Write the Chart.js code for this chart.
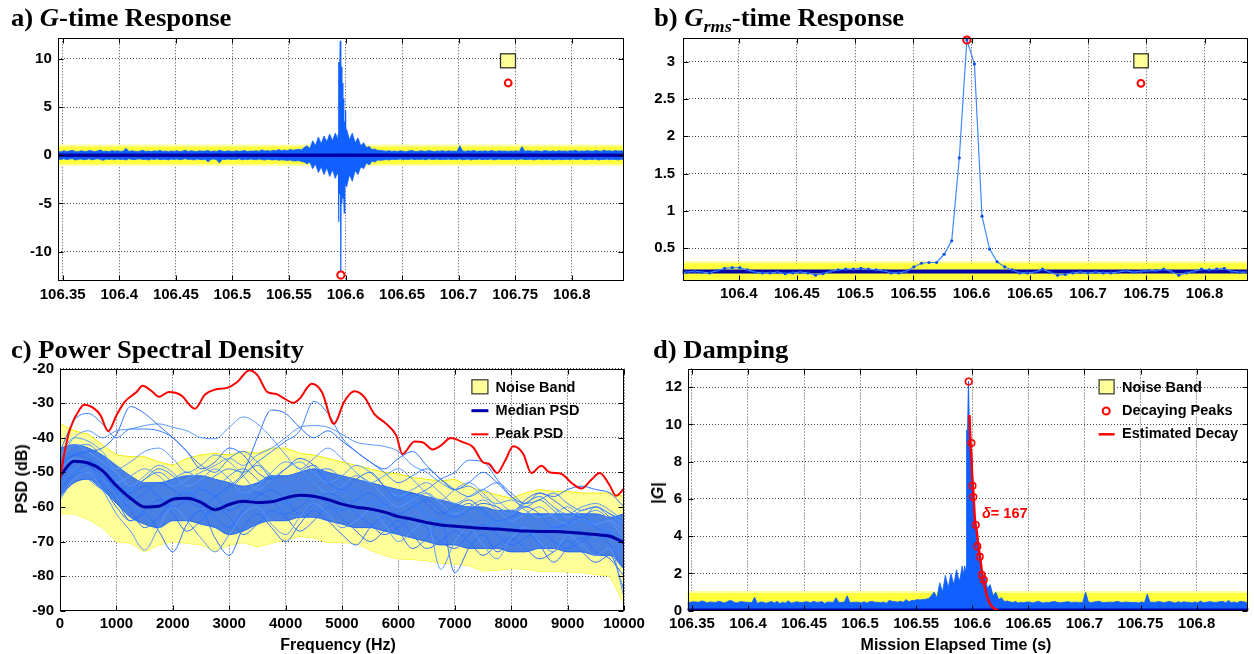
<!DOCTYPE html>
<html><head><meta charset="utf-8">
<script src="https://cdn.jsdelivr.net/npm/chart.js@4.4.1/dist/chart.umd.min.js"></script>
<style>
html,body{margin:0;padding:0;background:#fff;}
#page{position:relative;width:1254px;height:654px;overflow:hidden;background:#fff;}
canvas{position:absolute;}
.ttl{position:absolute;font-family:"Liberation Serif","Times New Roman",serif;font-weight:bold;font-size:25px;line-height:25px;white-space:nowrap;transform-origin:0 0;transform:scaleX(1.065);color:#000;}
.ttl .sub{font-size:17px;position:relative;top:6px;}
.ax{position:absolute;font-family:"Liberation Sans",Arial,sans-serif;font-weight:bold;font-size:16px;line-height:16px;white-space:nowrap;color:#000;}
.ann{position:absolute;font-family:"Liberation Sans",Arial,sans-serif;font-weight:bold;font-size:14.5px;line-height:16px;white-space:nowrap;color:#f00;}
</style></head>
<body><div id="page">
<canvas id="cA" width="630" height="290" style="left:0;top:30px"></canvas>
<canvas id="cB" width="624" height="290" style="left:630px;top:30px"></canvas>
<canvas id="cC" width="660" height="324" style="left:0;top:330px"></canvas>
<canvas id="cD" width="624" height="324" style="left:630px;top:330px"></canvas>
<div class="ttl" style="left:11px;top:5px">a) <i>G</i>-time Response</div>
<div class="ttl" style="left:654px;top:5px">b) <i>G<span class="sub">rms</span></i>-time Response</div>
<div class="ttl" style="left:11px;top:337px">c) Power Spectral Density</div>
<div class="ttl" style="left:653px;top:337px">d) Damping</div>
<div class="ax" style="left:338px;top:636.5px;transform:translateX(-50%)">Frequency (Hz)</div>
<div class="ax" style="left:956px;top:636.5px;transform:translateX(-50%)">Mission Elapsed Time (s)</div>
<div class="ax" style="left:21.5px;top:479px;transform:translate(-50%,-50%) rotate(-90deg)">PSD (dB)</div>
<div class="ax" style="left:657.5px;top:493px;transform:translate(-50%,-50%) rotate(-90deg)">|<i>G</i>|</div>
<div class="ann" style="left:982px;top:504.5px"><i>δ</i>= 167</div>
</div>
<script>
// ================= DATA =================
// ---- a) G-time response (envelope of the signal, sampled every aStep s) ----
const aStart = 106.346, aStep = 0.0025;
const aUpper = [
.42,.35,.48,.38,.45,.52,.40,.36,.47,.41,.38,.50,.44,.37,.46,.55,.40,.43,.36,.49,
.41,.46,.38,.44,.72,.39,.47,.42,.36,.45,.50,.40,.43,.38,.46,.41,.53,.39,.44,.37,
.45,.40,.48,.36,.43,.51,.39,.46,.42,.38,.47,.41,.44,.49,.37,.45,.40,.52,.43,.38,
.46,.42,.39,.48,.41,.44,.50,.38,.45,.43,.47,.40,.56,.44,.49,.42,.51,.46,.60,.48,
.55,.48,.60,.52,.58,.62,.56,.80,1.0,.70,1.5,1.0,1.9,1.2,2.0,1.4,2.2,1.5,2.3,1.6,
2.6,1.7,2.7,1.6,2.3,1.3,1.8,1.0,1.3,.80,.90,.60,.65,.50,.50,.46,.42,.48,.40,.44,
.39,.47,.42,.36,.45,.50,.41,.38,.46,.43,.40,.49,.44,.37,.45,.42,.48,.39,.46,.41,
.43,.38,1.0,.45,.40,.47,.42,.51,.39,.44,.41,.46,.38,.49,.43,.40,.47,.42,.45,.39,
.44,.41,.48,.37,.90,.42,.46,.45,.40,.47,.43,.39,.50,.44,.41,.46,.38,.48,.42,.45,
.40,.47,.43,.52,.39,.45,.42,.48,.44,.41,.49,.46,.40,.55,.43,.47,.41,.50,.44,.46,
.42];
const aLower = [
-.38,-.45,-.36,-.47,-.40,-.35,-.50,-.42,-.39,-.46,-.44,-.37,-.48,-.41,-.36,-.45,-.52,-.39,-.43,-.40,
-.47,-.38,-.44,-.41,-.49,-.36,-.43,-.46,-.40,-.38,-.45,-.42,-.50,-.39,-.44,-.37,-.46,-.41,-.43,-.48,
-.40,-.44,-.38,-.47,-.42,-.36,-.45,-.41,-.49,-.39,-.43,-.46,-.40,-.70,-.44,-.38,-.47,-.80,-.42,-.45,
-.39,-.46,-.42,-.44,-.37,-.48,-.41,-.45,-.40,-.43,-.47,-.39,-.44,-.50,-.42,-.46,-.48,-.44,-.52,-.47,
-.50,-.55,-.48,-.58,-.60,-.55,-.65,-.70,-.90,-.70,-1.4,-.90,-1.8,-1.2,-2.0,-1.3,-2.2,-1.5,-2.4,-1.6,
-2.8,-1.9,-3.3,-2.0,-2.7,-1.6,-2.0,-1.2,-1.4,-.80,-1.0,-.60,-.70,-.50,-.52,-.48,-.44,-.50,-.41,-.45,
-.43,-.39,-.47,-.42,-.45,-.38,-.46,-.41,-.44,-.40,-.48,-.37,-.45,-.43,-.39,-.47,-.42,-.44,-.40,-.46,
-.41,-.45,-.38,-.47,-.43,-.40,-.49,-.42,-.44,-.39,-.46,-.41,-.45,-.38,-.48,-.43,-.40,-.46,-.42,-.44,
-.45,-.40,-.47,-.42,-.38,-.46,-.43,-.41,-.49,-.44,-.39,-.47,-.42,-.45,-.40,-.48,-.43,-.41,-.46,-.44,
-.42,-.47,-.40,-.45,-.43,-.38,-.48,-.44,-.41,-.46,-.39,-.50,-.43,-.45,-.40,-.47,-.42,-.44,-.49,-.41,
-.44];
const aBurstT = [106.5932,106.5936,106.5939,106.5942,106.5946,106.5950,106.5954,106.5957,106.5960,106.5964,106.5968,106.5972,106.5977,106.5981,106.5985,106.5989,106.5993,106.5997,106.6001,106.6005,106.6010];
const aBurstG = [-2.0,2.2,-6.9,9.7,-4.0,9.2,11.9,-9.0,-12.1,9.2,-5.0,7.5,-4.5,5.9,-3.5,-6.0,3.5,-3.0,4.7,-2.5,2.4];
const aPeakT = [106.5959], aPeakG = [-12.45];
const aNoiseInner = [-0.92, 0.92], aNoiseOuter = [-1.12, 1.12];
const aMeanLevel = 0;
const aTicksX = [106.35,106.4,106.45,106.5,106.55,106.6,106.65,106.7,106.75,106.8];
const aTicksY = [-10,-5,0,5,10];

// ---- b) Grms-time response ----
const bStart = 106.3424, bStep = 0.0065;
const bGrms = [
0.17,0.17,0.18,0.19,0.18,0.17,0.20,0.23,0.24,0.24,
0.21,0.18,0.17,0.17,0.18,0.16,0.17,0.18,0.17,0.14,
0.16,0.19,0.21,0.22,0.22,0.23,0.22,0.21,0.20,0.17,
0.17,0.19,0.25,0.30,0.31,0.31,0.42,0.60,1.71,3.29,
2.97,0.93,0.49,0.32,0.25,0.21,0.17,0.17,0.18,0.22,
0.18,0.14,0.15,0.17,0.18,0.17,0.18,0.17,0.17,0.18,
0.20,0.18,0.19,0.20,0.20,0.22,0.19,0.14,0.17,0.19,
0.22,0.21,0.22,0.23,0.19,0.18,0.18,0.18];
const bPeakT = [106.5959], bPeakG = [3.29];
const bNoiseInner = [0.08, 0.30], bNoiseOuter = [0.05, 0.33];
const bMedianLevel = 0.19;
const bTicksX = [106.4,106.45,106.5,106.55,106.6,106.65,106.7,106.75,106.8];
const bTicksY = [0.5,1,1.5,2,2.5,3];

// ---- c) Power spectral density (sampled every cStep Hz) ----
const cStep = 250;
const cNoiseUpper = [-36,-38,-39,-42,-45,-45.5,-45.5,-47,-48,-46,-45,-44.5,-45,-44,-44.5,-43,-43,-44.5,-45,-46,-47,-48,-49,-50,-50.5,-51.5,-52,-52.5,-52,-54,-55.5,-56.5,-57.5,-56,-55,-55.5,-55.5,-56,-56,-56,-57];
const cNoiseLower = [-62,-62,-63.6,-66,-70,-70.5,-73,-71,-70,-70.5,-71,-72.8,-71,-70.3,-71.5,-70.5,-69.5,-68.5,-69,-70.3,-70.3,-70.5,-72.5,-74,-75,-75.2,-75.5,-76.2,-76.5,-77,-78.5,-78.3,-77.8,-78,-78.6,-78.5,-78.8,-79,-79.5,-80,-88];
const cBulkUpper = [-43,-42,-43,-45,-48,-51,-53,-53,-52,-51,-51,-52,-53,-54,-53,-51,-51,-50,-49,-50,-51,-52,-53,-54,-55,-56,-57,-58,-59,-60,-60,-61,-61,-62,-62,-62,-62,-62,-62,-63,-62];
const cBulkLower = [-57,-53,-52,-55,-59,-63,-65,-66,-64,-64,-65,-66,-68,-67,-65,-64,-64,-63,-63,-64,-65,-66,-66,-67,-68,-69,-70,-71,-71,-72,-72,-72,-73,-73,-72,-72,-73,-73,-74,-74,-78];
const cMedian = [-51,-46.8,-47.3,-49.5,-53.9,-57.5,-60,-59.8,-57.8,-57.5,-58.7,-60.8,-59.3,-58.4,-58.7,-58.5,-57.4,-56.6,-56.9,-57.9,-59.2,-60.1,-60.6,-61.5,-62.8,-63.6,-64.5,-65.2,-65.6,-65.9,-66.2,-66.4,-66.7,-67.0,-67.1,-67.1,-67.3,-67.6,-68.0,-68.5,-70.3];
const cPsd01 = [-44,-35,-33,-36,-40,-37.5,-37.5,-38,-40,-44,-48,-50,-46,-44,-47,-51,-54,-50,-48,-52,-56,-55,-58,-60,-57,-59,-62,-64,-61,-63,-66,-64,-65,-67,-69,-66,-65,-68,-70,-68,-72];
const cPsd02 = [-48,-45,-44,-43,-39,-31,-33,-36.5,-40,-44,-49,-47,-43,-45,-50,-52,-49,-46,-48,-53,-55,-52,-50,-54,-58,-56,-59,-62,-60,-58,-61,-64,-63,-60,-62,-66,-65,-63,-66,-68,-70];
const cPsd03 = [-46,-40,-38,-40,-38,-37.5,-36.5,-36,-37,-38,-40,-40.3,-37,-34,-36,-40,-45,-49,-46,-43,-46,-50,-53,-51,-49,-52,-56,-58,-55,-53,-56,-60,-62,-59,-57,-60,-63,-61,-60,-62,-65];
const cPsd04 = [-52,-47,-48,-51,-55,-58,-56,-53,-55,-58,-60,-57,-54,-50,-40,-32,-33,-37,-40,-38,-41,-44,-47,-49,-46,-44,-48,-52,-55,-53,-50,-53,-57,-59,-56,-58,-61,-63,-60,-62,-64];
const cPsd05 = [-50,-49,-52,-55,-57,-55,-52,-50,-53,-56,-54,-51,-49,-50,-47,-44,-41,-38,-29.5,-33,-40,-44,-47,-50,-53,-51,-49,-52,-55,-57,-55,-53,-56,-59,-58,-56,-59,-61,-60,-63,-65];
const cPsd06 = [-50,-46,-47,-50,-53,-51,-49,-51,-54,-52,-50,-48,-46,-48,-45,-43,-40,-37,-36.5,-37,-39,-41.3,-42,-42.5,-44,-48,-50,-53,-55,-54,-57,-59,-58,-61,-63,-62,-60,-63,-65,-64,-67];
const cPsd07 = [-54,-50,-49,-52,-56,-60,-62,-59,-57,-60,-63,-61,-58,-56,-59,-62,-60,-57,-59,-62,-60,-58,-61,-63,-60,-57,-55,-52,-50,-46.5,-47,-52,-57,-60,-58,-61,-64,-62,-65,-67,-69];
const cPsd08 = [-47,-45,-46,-49,-53,-56,-54,-57,-60,-58,-55,-57,-61,-59,-56,-58,-62,-60,-57,-59,-61,-58,-56,-59,-62,-60,-58,-61,-63,-61,-59,-60,-62,-58,-56,-57,-55,-54,-55,-56,-60];
const cPsd09 = [-58,-52,-50,-55,-62,-67,-72.5,-66,-60,-64,-69,-73,-68,-62,-60,-65,-68,-63,-59,-62,-66,-64,-61,-65,-70,-67,-64,-78,-70,-66,-71,-75,-69,-66,-70,-73,-68,-71,-74,-72,-86];
const cPsd10 = [-55,-50,-48,-53,-58,-64,-62,-67,-73,-65,-61,-69,-74,-66,-62,-66,-70,-65,-61,-64,-68,-71,-66,-63,-67,-72,-69,-64,-79,-72,-68,-73,-70,-67,-71,-76,-72,-69,-73,-75,-80];
const cPsd11 = [-50,-44,-45,-48,-51,-56,-58,-55,-52,-50,-53,-57,-55,-51,-48,-52,-56,-53,-50,-49,-52,-56,-59,-57,-55,-58,-62,-64,-61,-59,-63,-66,-64,-62,-65,-67,-66,-64,-66,-68,-71];
const cPsd12 = [-45,-40,-41,-44,-49,-47,-44,-43,-46,-50,-48,-45,-47,-51,-55,-52,-49,-47,-50,-53,-51,-48,-50,-54,-57,-55,-53,-56,-59,-57,-55,-58,-61,-59,-57,-60,-62,-60,-59,-61,-64];
const cPsd13 = [-49,-43,-42,-46,-52,-55,-52,-49,-51,-55,-58,-55,-51,-49,-52,-56,-59,-56,-52,-51,-54,-58,-61,-59,-56,-59,-63,-66,-63,-60,-62,-65,-67,-64,-62,-65,-68,-66,-64,-67,-74];
const cPsd14 = [-53,-48,-47,-50,-56,-61,-66,-63,-58,-56,-59,-63,-66,-61,-57,-55,-58,-62,-59,-56,-58,-62,-65,-68,-66,-63,-66,-70,-72,-68,-65,-68,-71,-69,-67,-70,-72,-70,-68,-71,-78];
const cPsd15 = [-47,-42,-44,-47,-50,-54,-51,-48,-50,-54,-52,-49,-52,-56,-54,-50,-47,-49,-53,-56,-54,-51,-53,-57,-60,-58,-56,-59,-62,-60,-58,-61,-64,-62,-60,-63,-65,-63,-61,-64,-69];
const cPsd16 = [-56,-51,-50,-54,-60,-64,-61,-58,-62,-67,-64,-60,-63,-68,-65,-61,-63,-67,-64,-60,-63,-67,-70,-67,-64,-68,-72,-70,-67,-70,-74,-71,-69,-72,-75,-73,-70,-73,-76,-74,-84];
const cPeakFreq = [0,71,180,357,430,607,714,857,1000,1143,1357,1464,1643,1750,1929,2143,2393,2571,2750,2964,3143,3357,3500,3679,3821,3929,4143,4250,4464,4643,4857,5036,5214,5393,5571,5786,5964,6071,6286,6429,6607,6750,6929,7143,7321,7500,7607,7750,7893,8036,8214,8357,8536,8679,8893,9071,9250,9429,9571,9750,9857,10000];
const cPeakPsd = [-52.4,-45,-37.4,-31.6,-30.5,-31.6,-33.4,-38.1,-33.6,-29.7,-26.8,-25,-26.8,-28.2,-26.8,-27.7,-31.6,-27.5,-26.1,-25.6,-23.9,-20.5,-21.9,-26.8,-27.3,-28.2,-29.9,-28.7,-24.4,-26.8,-36,-29.7,-26.6,-28.2,-33.1,-36,-39.4,-44.7,-41.1,-41.3,-43.4,-42.3,-40.1,-41.3,-42.7,-47.1,-47.6,-50.2,-46.6,-42.5,-44.7,-50.2,-48.1,-50,-50.5,-53.1,-54.7,-52,-50.2,-53.9,-56.8,-54.7];
const cLegendLabels = ['Noise Band','Median PSD','Peak PSD'];
const cTicksX = [0,1000,2000,3000,4000,5000,6000,7000,8000,9000,10000];
const cTicksY = [-90,-80,-70,-60,-50,-40,-30,-20];

// ---- d) Damping ----
const dBurstT = [106.5740,106.5760,106.5772,106.5780,106.5795,106.5808,106.5820,106.5835,106.5850,106.5862,106.5879,106.5892,106.5907,106.5920,106.5932,106.5945,106.5950,106.5958,106.5966,106.5972,106.5980,106.5990,106.6000,106.6010,106.6020,106.6030,106.6045,106.6060,106.6075,106.6090,106.6105,106.6120,106.6135,106.6150,106.6170];
const dBurstG = [0.6,1.0,1.55,0.9,1.1,0.95,1.3,1.2,1.5,1.3,1.75,1.4,1.85,1.6,2.4,2.0,9.7,9.4,12.3,10.3,9.2,8.2,6.6,6.0,4.9,4.4,3.4,2.8,2.2,1.7,1.35,1.0,0.8,0.6,0.45];
const dPeakT = [106.5968,106.5992,106.6002,106.6009,106.6031,106.6045,106.6066,106.6084,106.6102];
const dPeakG = [12.3,9.0,6.7,6.1,4.6,3.45,2.9,1.93,1.66];
const dDecayT = [106.5975,106.5985,106.5992,106.6000,106.6012,106.6025,106.6041,106.6056,106.6071,106.6086,106.6101,106.6116,106.6130,106.6145,106.6160,106.6180,106.6200,106.6230];
const dDecayG = [10.5,8.9,8.3,7.2,6.1,4.8,4.2,3.4,2.8,2.1,1.6,1.15,0.8,0.55,0.35,0.2,0.1,0.03];
const dNoiseInner = 0.95, dNoiseOuter = 1.06;
const dMedianLevel = 0.06;
const dLegendLabels = ['Noise Band','Decaying Peaks','Estimated Decay'];
const dTicksY = [0,2,4,6,8,10,12];

// ================= STYLE / HELPERS =================
const BLUE = '#1060ff', NAVY = '#0000a8', RED = '#ff0000';
const Y_BRIGHT = '#ffff3c', Y_PALE = '#ffffa6';
const FONT = '"Liberation Sans", Arial, sans-serif';
Chart.defaults.font.family = FONT;
Chart.defaults.color = '#000';

const pts = (xs, ys) => xs.map((x, i) => ({x: x, y: ys[i]}));
const span = (lvl, x0, x1) => [{x: x0, y: lvl}, {x: x1, y: lvl}];
const fmtT = v => String(parseFloat(Number(v).toFixed(2)));
const fmtN = v => String(v);

const framePlugin = {
  id: 'frame',
  afterDatasetsDraw(chart) {
    const {ctx, chartArea: ca} = chart;
    const xs = chart.scales.x, ys = chart.scales.y;
    ctx.save();
    ctx.setLineDash([]);
    ctx.strokeStyle = '#000'; ctx.lineWidth = 1;
    const L = Math.round(ca.left) + 0.5, R = Math.round(ca.right) - 0.5;
    const T = Math.round(ca.top) + 0.5, B = Math.round(ca.bottom) - 0.5;
    ctx.strokeRect(L, T, R - L, B - T);
    ctx.beginPath();
    xs.ticks.forEach(t => { const p = Math.round(xs.getPixelForValue(t.value)) + 0.5;
      ctx.moveTo(p, B); ctx.lineTo(p, B - 5); ctx.moveTo(p, T); ctx.lineTo(p, T + 5); });
    ys.ticks.forEach(t => { const p = Math.round(ys.getPixelForValue(t.value)) + 0.5;
      ctx.moveTo(L, p); ctx.lineTo(L + 5, p); ctx.moveTo(R, p); ctx.lineTo(R - 5, p); });
    ctx.stroke();
    ctx.restore();
  }
};
const legendPlugin = {
  id: 'miniLegend',
  afterDraw(chart, args, opts) {
    const items = opts.items || [];
    const ctx = chart.ctx;
    ctx.save();
    ctx.setLineDash([]);
    items.forEach(it => {
      if (it.kind === 'patch') {
        ctx.fillStyle = it.fill; ctx.fillRect(it.x, it.y, it.w, it.h);
        ctx.strokeStyle = it.stroke; ctx.lineWidth = 1.3; ctx.strokeRect(it.x + 0.5, it.y + 0.5, it.w - 1, it.h - 1);
      } else if (it.kind === 'line') {
        ctx.strokeStyle = it.color; ctx.lineWidth = it.width;
        ctx.beginPath(); ctx.moveTo(it.x, it.y); ctx.lineTo(it.x + it.w, it.y); ctx.stroke();
      } else if (it.kind === 'circle') {
        ctx.strokeStyle = it.color; ctx.lineWidth = it.width;
        ctx.beginPath(); ctx.arc(it.x, it.y, it.r, 0, Math.PI * 2); ctx.stroke();
      }
      if (it.text) {
        ctx.fillStyle = '#000'; ctx.font = 'bold 14.5px ' + FONT;
        ctx.textBaseline = 'middle'; ctx.textAlign = 'left';
        ctx.fillText(it.text, it.tx, it.ty);
      }
    });
    ctx.restore();
  }
};
Chart.register(framePlugin, legendPlugin);

function scales(o) {
  const tickFont = {family: FONT, size: 15, weight: 'bold'};
  const grid = {color: 'rgba(0,0,0,0.72)', lineWidth: 1, drawTicks: false};
  const border = {display: false, dash: [1, 2]};
  return {
    x: {type: 'linear', bounds: 'data', min: o.xMin, max: o.xMax,
      afterBuildTicks: s => { s.ticks = o.xTicks.map(v => ({value: v})); },
      afterFit: s => { s.height = o.xH; s.paddingLeft = 0; s.paddingRight = 0; },
      ticks: {font: tickFont, color: '#000', padding: o.xPad, autoSkip: false, maxRotation: 0, minRotation: 0, callback: o.fmtX},
      grid: grid, border: border},
    y: {type: 'linear', bounds: 'data', min: o.yMin, max: o.yMax,
      afterBuildTicks: s => { s.ticks = o.yTicks.map(v => ({value: v})); },
      afterFit: s => { s.width = o.yW; s.paddingTop = 0; s.paddingBottom = 0; },
      ticks: {font: tickFont, color: '#000', padding: o.yPad, autoSkip: false, callback: fmtN},
      grid: grid, border: border}
  };
}
function baseOpts(pad, sc, legendItems) {
  return {
    responsive: false, animation: false, devicePixelRatio: 1, events: [],
    layout: {padding: pad},
    elements: {point: {radius: 0}, line: {tension: 0}},
    plugins: {legend: {display: false}, tooltip: {enabled: false}, miniLegend: {items: legendItems}},
    scales: sc
  };
}
const marker = (data, r, w) => ({type: 'scatter', data: data, pointRadius: r, pointBorderColor: RED, pointBorderWidth: w,
  pointBackgroundColor: 'rgba(0,0,0,0)', showLine: false, clip: false, order: 0});

// ================= PANEL A =================
const tMinA = 106.3461, tMaxA = 106.8462;
const aTimes = aUpper.map((_, i) => aStart + i * aStep);
new Chart(document.getElementById('cA'), {
  type: 'line',
  data: {datasets: [
    marker(pts(aPeakT, aPeakG), 3.6, 2),
    {data: span(aMeanLevel, tMinA - 0.01, tMaxA + 0.01), borderColor: NAVY, borderWidth: 3.5, order: 1},
    {data: pts(aBurstT, aBurstG), borderColor: BLUE, borderWidth: 1.2, order: 2},
    {data: pts(aTimes, aUpper), borderColor: BLUE, borderWidth: 0.8, fill: '+1', backgroundColor: BLUE, order: 3},
    {data: pts(aTimes, aLower), borderColor: BLUE, borderWidth: 0.8, order: 3},
    {data: span(aNoiseInner[1], tMinA - 0.01, tMaxA + 0.01), borderWidth: 0, fill: '+1', backgroundColor: Y_BRIGHT, order: 5},
    {data: span(aNoiseInner[0], tMinA - 0.01, tMaxA + 0.01), borderWidth: 0, order: 5},
    {data: span(aNoiseOuter[1], tMinA - 0.01, tMaxA + 0.01), borderWidth: 0, fill: '+1', backgroundColor: Y_PALE, order: 6},
    {data: span(aNoiseOuter[0], tMinA - 0.01, tMaxA + 0.01), borderWidth: 0, order: 6}
  ]},
  options: baseOpts({left: 0, top: 8.3, right: 6, bottom: 0},
    scales({xMin: tMinA, xMax: tMaxA, xTicks: aTicksX, yMin: -13.03, yMax: 12.15, yTicks: aTicksY, yW: 58.3, xH: 39.3, xPad: 5, yPad: 6.5, fmtX: fmtT}),
    [{kind: 'patch', x: 500, y: 23.3, w: 16, h: 15, fill: '#ffff99', stroke: '#333'},
     {kind: 'circle', x: 508.2, y: 53, r: 3.4, width: 2, color: RED}])
});

// ================= PANEL B =================
const tMinB = 106.3519, tMaxB = 106.8373;
const bTimes = bGrms.map((_, i) => bStart + i * bStep);
new Chart(document.getElementById('cB'), {
  type: 'line',
  data: {datasets: [
    marker(pts(bPeakT, bPeakG), 3.6, 2),
    {data: pts(bTimes, bGrms), borderColor: '#3f86ff', borderWidth: 1.2, pointRadius: 1.6, pointBackgroundColor: '#1450e6', pointBorderWidth: 0, order: 1},
    {data: span(bMedianLevel, tMinB - 0.01, tMaxB + 0.01), borderColor: NAVY, borderWidth: 4, order: 2},
    {data: span(bNoiseInner[1], tMinB - 0.01, tMaxB + 0.01), borderWidth: 0, fill: '+1', backgroundColor: Y_BRIGHT, order: 5},
    {data: span(bNoiseInner[0], tMinB - 0.01, tMaxB + 0.01), borderWidth: 0, order: 5},
    {data: span(bNoiseOuter[1], tMinB - 0.01, tMaxB + 0.01), borderWidth: 0, fill: '+1', backgroundColor: Y_PALE, order: 6},
    {data: span(bNoiseOuter[0], tMinB - 0.01, tMaxB + 0.01), borderWidth: 0, order: 6}
  ]},
  options: baseOpts({left: 0, top: 8.3, right: 3, bottom: 0},
    scales({xMin: tMinB, xMax: tMaxB, xTicks: bTicksX, yMin: 0.066, yMax: 3.313, yTicks: bTicksY, yW: 52.7, xH: 39.3, xPad: 4, yPad: 7.5, fmtX: fmtT}),
    [{kind: 'patch', x: 503.3, y: 23.3, w: 15.5, h: 15, fill: '#ffff99', stroke: '#333'},
     {kind: 'circle', x: 510.9, y: 53.3, r: 3.4, width: 2, color: RED}])
});

// ================= PANEL C =================
const cFreq = cMedian.map((_, i) => i * cStep);
const psdLines = [cPsd01, cPsd02, cPsd03, cPsd04, cPsd05, cPsd06, cPsd07, cPsd08, cPsd09, cPsd10, cPsd11, cPsd12, cPsd13, cPsd14, cPsd15, cPsd16];
const lineCols = ['#3a82ff', '#2a70ff', '#5a98ff', '#2a70ff', '#3a82ff', '#5a98ff'];
const cSets = [
  {label: cLegendLabels[2], data: pts(cPeakFreq, cPeakPsd), borderColor: RED, borderWidth: 2, cubicInterpolationMode: 'monotone', order: 0},
  {label: cLegendLabels[1], data: pts(cFreq, cMedian), borderColor: NAVY, borderWidth: 3, cubicInterpolationMode: 'monotone', order: 1}
];
psdLines.forEach((ln, k) => cSets.push({data: pts(cFreq, ln), borderColor: lineCols[k % lineCols.length], borderWidth: 1, cubicInterpolationMode: 'monotone', order: 2}));
cSets.push({data: pts(cFreq, cBulkUpper), borderColor: 'rgba(30,100,250,0.9)', borderWidth: 1, fill: '+1', backgroundColor: 'rgba(22,92,245,0.78)', cubicInterpolationMode: 'monotone', order: 3});
cSets.push({data: pts(cFreq, cBulkLower), borderColor: 'rgba(30,100,250,0.9)', borderWidth: 1, cubicInterpolationMode: 'monotone', order: 3});
cSets.push({label: cLegendLabels[0], data: pts(cFreq, cNoiseUpper), borderColor: '#eeee00', borderWidth: 1, fill: '+1', backgroundColor: '#ffff9a', order: 4});
cSets.push({data: pts(cFreq, cNoiseLower), borderColor: '#eeee00', borderWidth: 1, order: 4});
new Chart(document.getElementById('cC'), {
  type: 'line',
  data: {datasets: cSets},
  options: baseOpts({left: 0, top: 38.5, right: 36, bottom: 0},
    scales({xMin: 0, xMax: 10000, xTicks: cTicksX, yMin: -90, yMax: -20, yTicks: cTicksY, yW: 60, xH: 43.3, xPad: 4, yPad: 6, fmtX: fmtN}),
    [{kind: 'patch', x: 471.4, y: 49.3, w: 17, h: 15, fill: '#ffff99', stroke: '#444', text: cLegendLabels[0], tx: 495.6, ty: 58},
     {kind: 'line', x: 471.4, y: 80.7, w: 17, width: 3, color: NAVY, text: cLegendLabels[1], tx: 495.6, ty: 80.7},
     {kind: 'line', x: 471.4, y: 104.3, w: 17, width: 2, color: RED, text: cLegendLabels[2], tx: 495.6, ty: 104.3}])
});

// ================= PANEL D =================
const dAbsEnv = aUpper.map((u, i) => Math.max(u, -aLower[i]));
new Chart(document.getElementById('cD'), {
  type: 'line',
  data: {datasets: [
    Object.assign(marker(pts(dPeakT, dPeakG), 3.3, 1.6), {label: dLegendLabels[1]}),
    {label: dLegendLabels[2], data: pts(dDecayT, dDecayG), borderColor: RED, borderWidth: 2.5, tension: 0.3, order: 1},
    {data: span(dMedianLevel, tMinA - 0.01, tMaxA + 0.01), borderColor: NAVY, borderWidth: 2, order: 2},
    {data: pts(dBurstT, dBurstG), borderColor: BLUE, borderWidth: 1, fill: 'origin', backgroundColor: BLUE, order: 3},
    {data: pts(aTimes, dAbsEnv), borderColor: BLUE, borderWidth: 0.8, fill: 'origin', backgroundColor: BLUE, order: 4},
    {label: dLegendLabels[0], data: span(dNoiseInner, tMinA - 0.01, tMaxA + 0.01), borderWidth: 0, fill: 'origin', backgroundColor: Y_BRIGHT, order: 5},
    {data: span(dNoiseOuter, tMinA - 0.01, tMaxA + 0.01), borderWidth: 0, fill: 'origin', backgroundColor: Y_PALE, order: 6}
  ]},
  options: baseOpts({left: 0, top: 38.5, right: 3, bottom: 0},
    scales({xMin: tMinA, xMax: tMaxA, xTicks: aTicksX, yMin: 0, yMax: 13, yTicks: dTicksY, yW: 57.5, xH: 43.3, xPad: 4, yPad: 5.5, fmtX: fmtT}),
    [{kind: 'patch', x: 468.6, y: 49.3, w: 16, h: 15, fill: '#ffff99', stroke: '#444', text: dLegendLabels[0], tx: 492.1, ty: 58},
     {kind: 'circle', x: 476.2, y: 81, r: 3.5, width: 2, color: RED, text: dLegendLabels[1], tx: 492.1, ty: 81},
     {kind: 'line', x: 468.6, y: 104.3, w: 16, width: 2.5, color: RED, text: dLegendLabels[2], tx: 492.1, ty: 104.3}])
});
</script>
</body></html>
